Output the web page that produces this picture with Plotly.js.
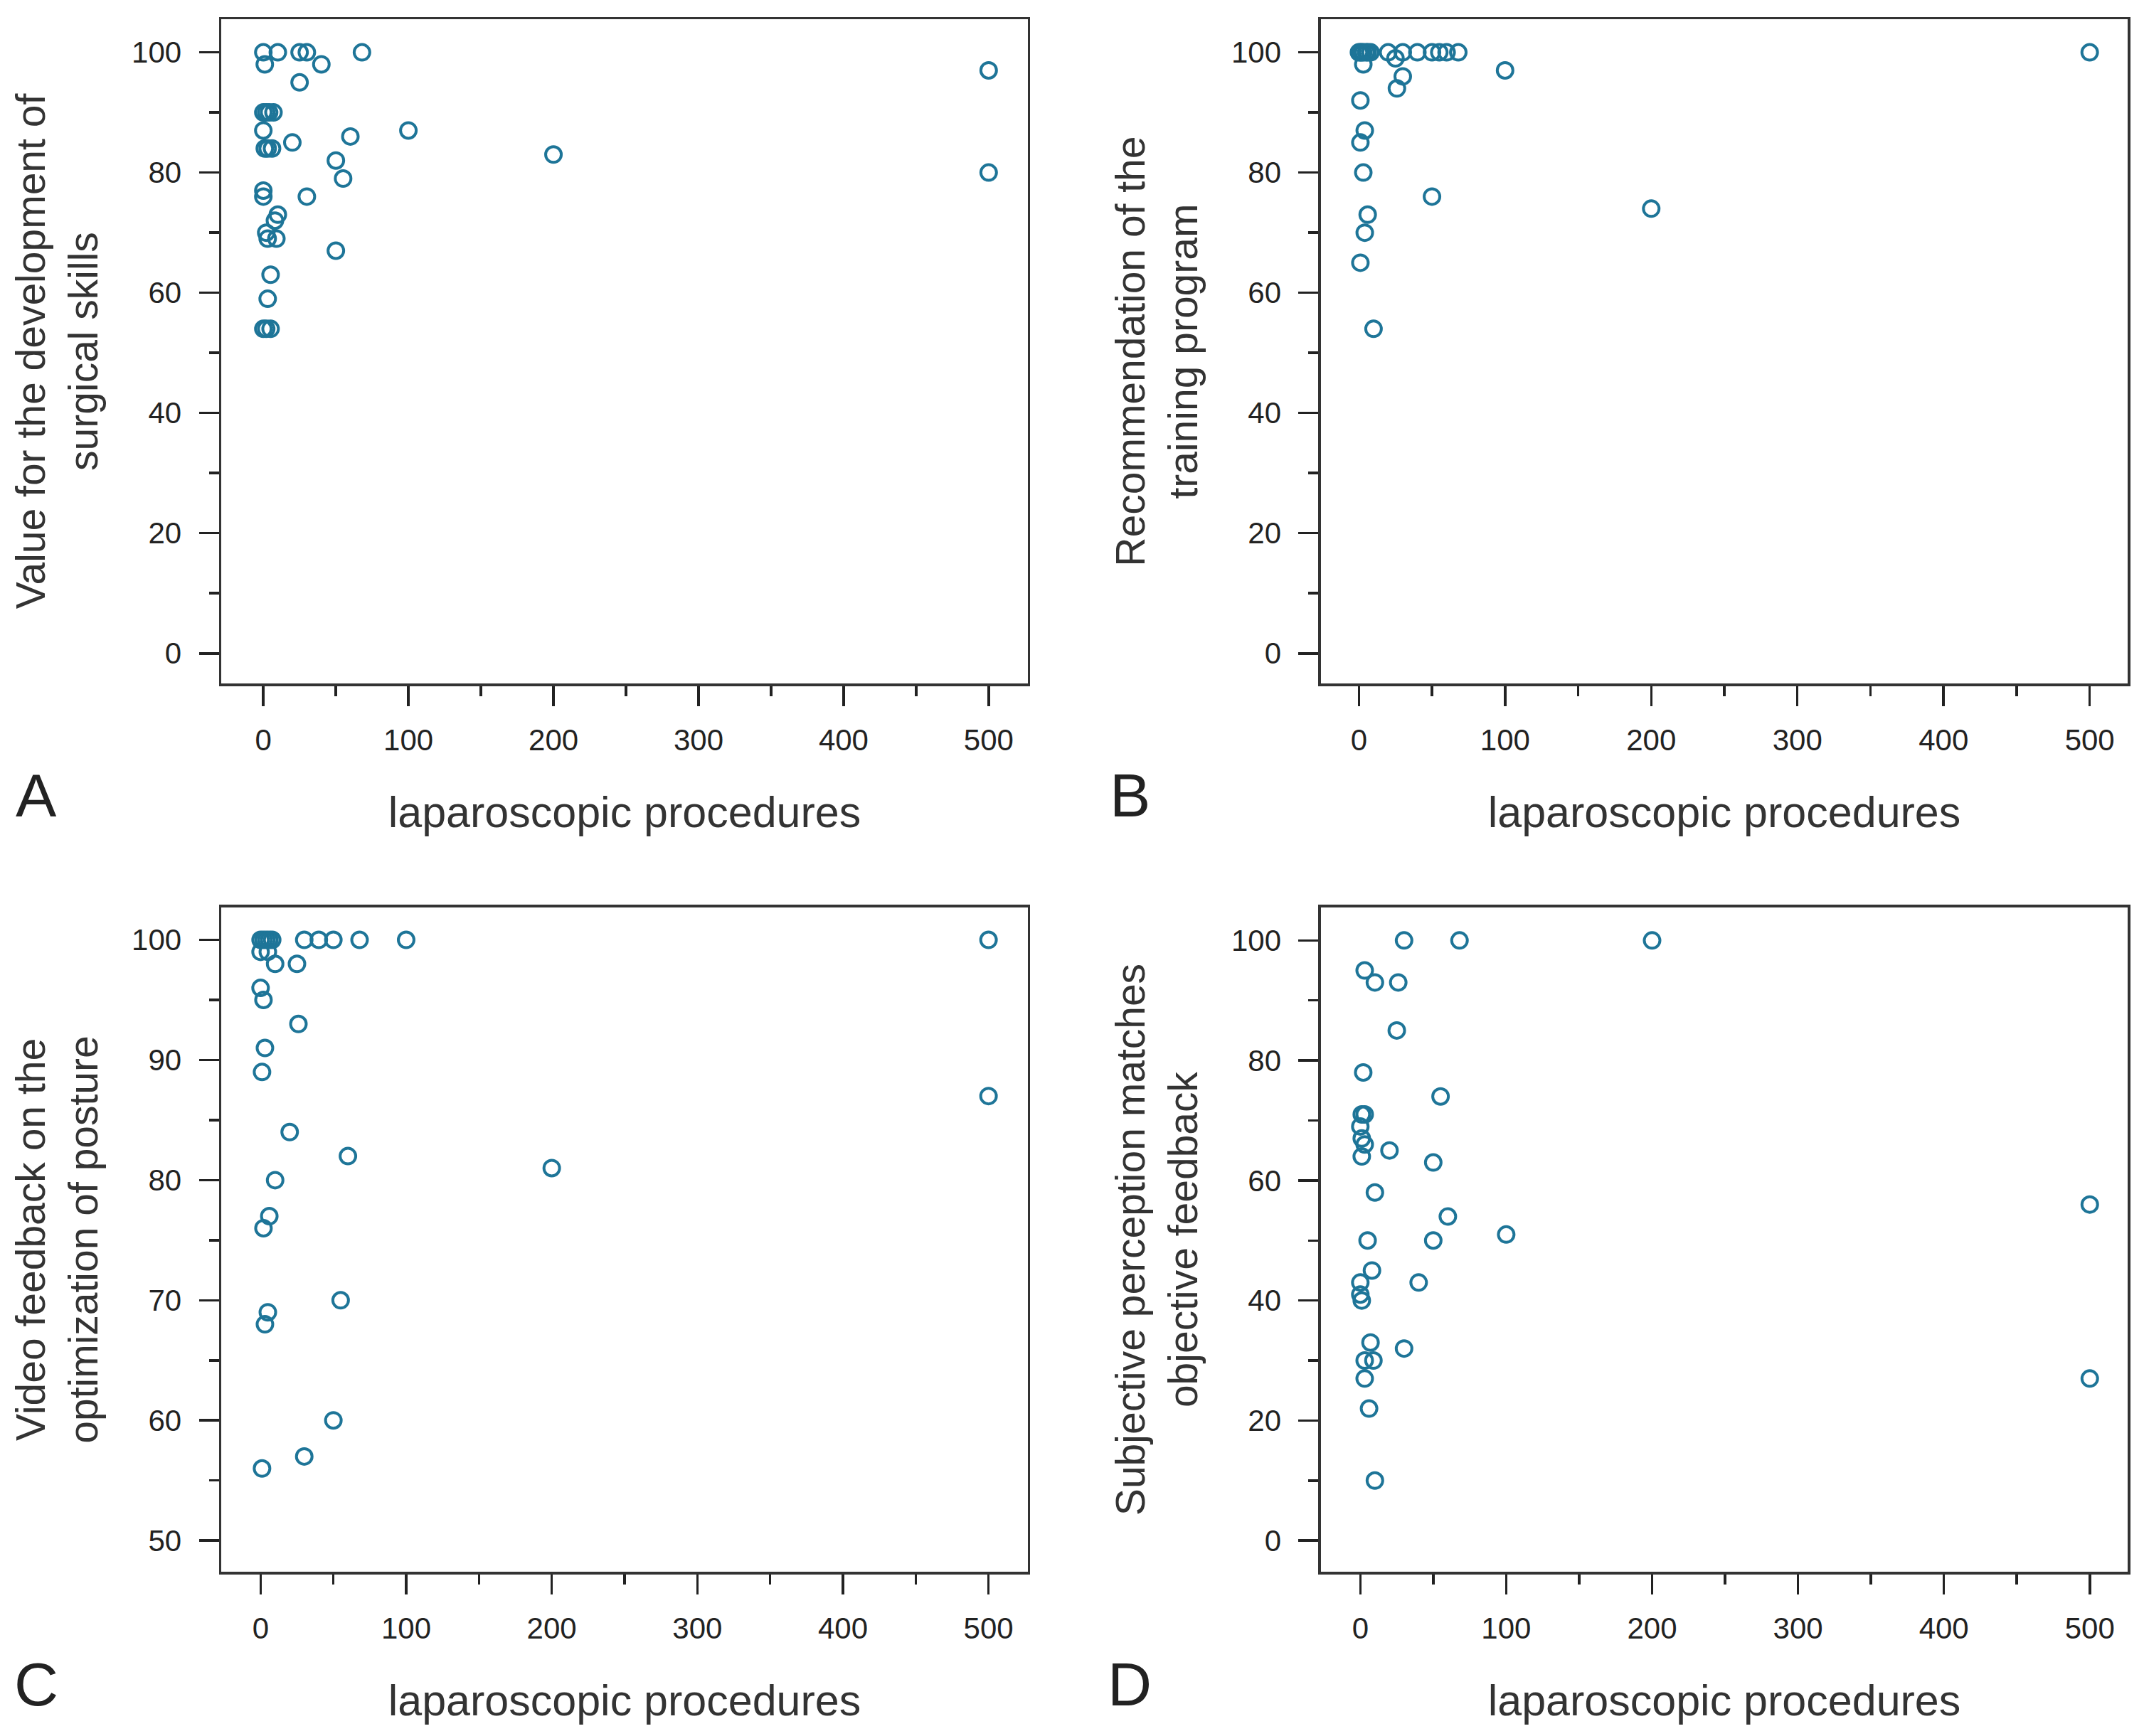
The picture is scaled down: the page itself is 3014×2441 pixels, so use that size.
<!DOCTYPE html>
<html>
<head>
<meta charset="utf-8">
<script src="https://cdn.plot.ly/plotly-3.0.1.min.js"></script>
<style>
  html, body { margin: 0; padding: 0; background: #fff; }
  #chart { width: 3014px; height: 2441px; }
</style>
</head>
<body>
<div id="chart"></div>
<script>
// A: value for the development of surgical skills
const procA  = [0, 10, 25, 30, 68, 1, 40, 25, 500, 0, 2, 4, 7, 0, 1, 3, 6, 20, 60, 100, 200, 500, 50, 55, 0, 0, 30, 10, 8, 2, 3, 9, 50, 5, 3, 0, 2, 5];
const valueA = [100, 100, 100, 100, 100, 98, 98, 95, 97, 90, 90, 90, 90, 87, 84, 84, 84, 85, 86, 87, 83, 80, 82, 79, 77, 76, 76, 73, 72, 70, 69, 69, 67, 63, 59, 54, 54, 54];

// B: recommendation of the training program
const procB  = [0, 1, 2, 3, 5, 6, 8, 20, 30, 40, 50, 55, 60, 68, 500, 25, 100, 3, 30, 26, 1, 4, 1, 3, 50, 6, 4, 1, 10, 200];
const valueB = [100, 100, 100, 100, 100, 100, 100, 100, 100, 100, 100, 100, 100, 100, 100, 99, 97, 98, 96, 94, 92, 87, 85, 80, 76, 73, 70, 65, 54, 74];

// C: video feedback on the optimization of posture
const procC  = [0, 2, 4, 6, 8, 30, 40, 50, 68, 100, 500, 0, 5, 10, 25, 0, 2, 26, 3, 1, 20, 60, 10, 6, 2, 55, 5, 3, 50, 30, 1, 200, 500];
const valueC = [100, 100, 100, 100, 100, 100, 100, 100, 100, 100, 100, 99, 99, 98, 98, 96, 95, 93, 91, 89, 84, 82, 80, 77, 76, 70, 69, 68, 60, 57, 56, 81, 87];

// D: subjective perception matches objective feedback
const procD  = [30, 68, 200, 3, 10, 26, 25, 2, 55, 1, 3, 0, 1, 3, 1, 20, 50, 10, 60, 5, 50, 100, 8, 40, 0, 0, 1, 7, 30, 3, 9, 3, 6, 10, 500, 500];
const valueD = [100, 100, 100, 95, 93, 93, 85, 78, 74, 71, 71, 69, 67, 66, 64, 65, 63, 58, 54, 50, 50, 51, 45, 43, 43, 41, 40, 33, 32, 30, 30, 27, 22, 10, 56, 27];

const xTicks = [0, 100, 200, 300, 400, 500];
const xTitle = 'laparoscopic procedures';
const yTitles = [
  'Value for the development of<br>surgical skills',
  'Recommendation of the<br>training program',
  'Video feedback on the<br>optimization of posture',
  'Subjective perception matches<br>objective feedback'
];
const panelLetters = ['A', 'B', 'C', 'D'];

const markerColor = '#1e7598';
const font = 'Liberation Sans, Arial, sans-serif';

function trace(x, y, n) {
  return {
    x: x, y: y,
    xaxis: 'x' + (n === 1 ? '' : n),
    yaxis: 'y' + (n === 1 ? '' : n),
    type: 'scatter',
    mode: 'markers',
    marker: {
      symbol: 'circle-open',
      size: 22,
      color: markerColor,
      line: {width: 4, color: markerColor}
    },
    hoverinfo: 'x+y'
  };
}

function xAxis(domain, range, anchor) {
  return {
    domain: domain,
    range: range,
    anchor: anchor,
    tickvals: xTicks,
    ticks: 'outside',
    ticklen: 28,
    tickwidth: 3.5,
    tickcolor: '#222',
    ticklabelstandoff: 12,
    minor: {dtick: 50, ticks: 'outside', ticklen: 14, tickwidth: 3.5, tickcolor: '#222'},
    showline: true,
    mirror: true,
    linecolor: '#333',
    linewidth: 3.5,
    showgrid: false,
    zeroline: false,
    tickfont: {family: font, size: 42, color: '#222'},
    title: {text: xTitle, font: {family: font, size: 61, color: '#333'}, standoff: 58}
  };
}

function yAxis(domain, range, anchor, dtick, minorDtick, title) {
  return {
    domain: domain,
    range: range,
    anchor: anchor,
    dtick: dtick,
    ticks: 'outside',
    ticklen: 28,
    tickwidth: 3.5,
    tickcolor: '#222',
    ticklabelstandoff: 16,
    minor: {dtick: minorDtick, ticks: 'outside', ticklen: 14, tickwidth: 3.5, tickcolor: '#222'},
    showline: true,
    mirror: true,
    linecolor: '#333',
    linewidth: 3.5,
    showgrid: false,
    zeroline: false,
    tickfont: {family: font, size: 42, color: '#222'},
    title: {text: title, font: {family: font, size: 57, color: '#333'}, standoff: 30}
  };
}

const colL = [0.1032, 0.4794];
const colR = [0.6161, 0.9924];
const rowT = [0.6063, 0.9889];
const rowB = [0.0946, 0.4773];

const data = [
  trace(procA, valueA, 1),
  trace(procB, valueB, 2),
  trace(procC, valueC, 3),
  trace(procD, valueD, 4)
];

const letterPos = [[0.017, 0.542], [0.527, 0.542], [0.017, 0.030], [0.527, 0.030]];

const layout = {
  width: 3014,
  height: 2441,
  margin: {l: 0, r: 0, t: 0, b: 0},
  paper_bgcolor: '#fff',
  plot_bgcolor: '#fff',
  showlegend: false,
  font: {family: font, color: '#222'},
  xaxis:  xAxis(colL, [-29, 527], 'y'),
  yaxis:  yAxis(rowT, [-5, 105.5], 'x', 20, 10, yTitles[0]),
  xaxis2: xAxis(colR, [-26, 526], 'y2'),
  yaxis2: yAxis(rowT, [-5, 105.5], 'x2', 20, 10, yTitles[1]),
  xaxis3: xAxis(colL, [-27, 527], 'y3'),
  yaxis3: yAxis(rowB, [47.4, 102.7], 'x3', 10, 5, yTitles[2]),
  xaxis4: xAxis(colR, [-27, 526], 'y4'),
  yaxis4: yAxis(rowB, [-5.2, 105.5], 'x4', 20, 10, yTitles[3]),
  annotations: panelLetters.map((t, i) => ({
    text: t,
    xref: 'paper', yref: 'paper',
    x: letterPos[i][0], y: letterPos[i][1],
    xanchor: 'center', yanchor: 'middle',
    showarrow: false,
    font: {family: font, size: 86, color: '#222'}
  }))
};

Plotly.newPlot('chart', data, layout, {staticPlot: true});
</script>
</body>
</html>
